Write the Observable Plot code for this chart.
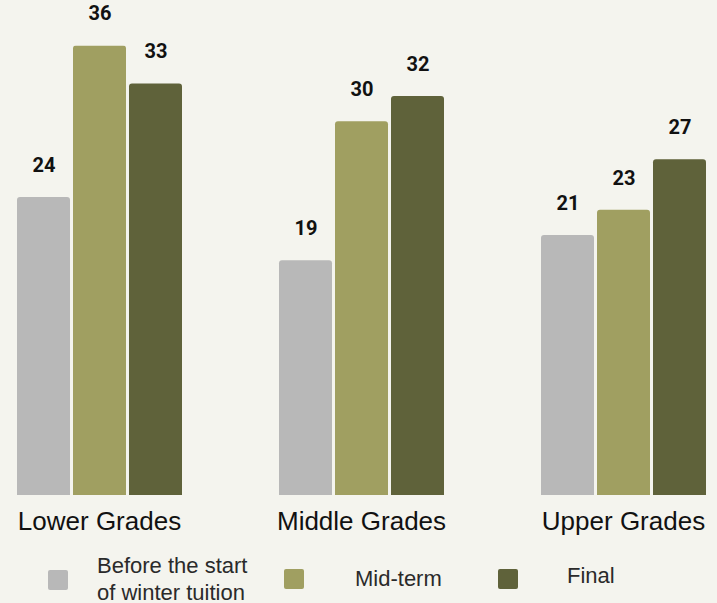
<!DOCTYPE html>
<html>
<head>
<meta charset="utf-8">
<script src="https://cdn.jsdelivr.net/npm/d3@7"></script>
<script src="https://cdn.jsdelivr.net/npm/@observablehq/plot@0.6"></script>
<style>
  html, body { margin: 0; padding: 0; background: #f4f4ee; }
  #wrap { position: relative; width: 717px; height: 603px; overflow: hidden; background: #f4f4ee; }
  #chart svg { display: block; }
  .lg { position: absolute; font-family: "Liberation Sans", Arial, sans-serif; font-size: 22px; color: #2a2a2a; line-height: 27px; }
  .sw { position: absolute; width: 20px; height: 20px; border-radius: 2px; }
</style>
</head>
<body>
<div id="wrap">
  <div id="chart"></div>
  <div id="legend"></div>
</div>
<script>
const groups = ["Lower Grades", "Middle Grades", "Upper Grades"];
const phases = ["Before the start of winter tuition", "Mid-term", "Final"];
const beforeStart = [24, 19, 21];
const midTerm = [36, 30, 23];
const finalScores = [33, 32, 27];
const colors = ["#b8b8b8", "#a09f61", "#5f623a"];

const series = [beforeStart, midTerm, finalScores];
const data = [];
groups.forEach((g, i) => {
  phases.forEach((p, j) => {
    data.push({group: g, phase: p, value: series[j][i]});
  });
});

const chart = Plot.plot({
  width: 717,
  height: 545,
  marginLeft: 16,
  marginRight: 11,
  marginTop: 45.5,
  marginBottom: 50,
  style: {background: "#f4f4ee"},
  fx: {domain: groups, paddingInner: 0.368, paddingOuter: 0, axis: null},
  x: {domain: phases, paddingInner: 0.06, paddingOuter: 0, axis: null},
  y: {domain: [0.4, 36], axis: null},
  color: {domain: phases, range: colors},
  marks: [
    Plot.barY(data, {fx: "group", x: "phase", y: "value", fill: "phase", rx: 3, ry: 3, clip: true}),
    Plot.text(data, {fx: "group", x: "phase", y: "value", text: d => String(d.value), dy: -32,
      lineAnchor: "middle", fontSize: 20, fontWeight: "bold", fontFamily: "Roboto", fill: "#111"}),
    Plot.axisFx({anchor: "bottom", tickSize: 0, tickPadding: 16, fontSize: 26,
      fontFamily: "Liberation Sans, Arial, sans-serif", fill: "#111", label: null})
  ]
});
document.getElementById("chart").appendChild(chart);

// Legend
const legend = document.getElementById("legend");
const items = [
  {sw: [48, 570], text: ["Before the start", "of winter tuition"], tx: [97, 552]},
  {sw: [284, 569], text: ["Mid-term"], tx: [355, 565]},
  {sw: [498, 569], text: ["Final"], tx: [567, 562]}
];
items.forEach((it, i) => {
  const s = document.createElement("div");
  s.className = "sw";
  s.style.left = it.sw[0] + "px";
  s.style.top = it.sw[1] + "px";
  s.style.background = colors[i];
  legend.appendChild(s);
  const t = document.createElement("div");
  t.className = "lg";
  t.style.left = it.tx[0] + "px";
  t.style.top = it.tx[1] + "px";
  t.innerHTML = it.text.join("<br>");
  legend.appendChild(t);
});
</script>
</body>
</html>
